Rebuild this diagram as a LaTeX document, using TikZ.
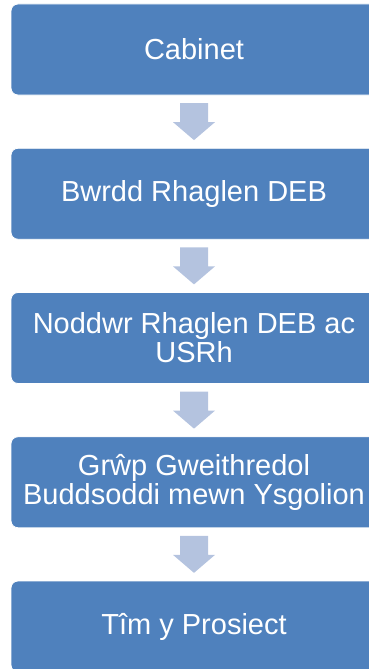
\documentclass[tikz,border=0pt]{standalone}
\usepackage{fontspec}
\setmainfont{Liberation Sans}
\usetikzlibrary{calc}
\definecolor{boxblue}{RGB}{79,129,189}
\definecolor{arrowblue}{RGB}{180,195,223}
\tikzset{
  stagebox/.style={fill=boxblue, draw=white, line width=0.8pt, rounded corners=7pt,
    minimum width=366pt, minimum height=91pt, text=white, align=center,
    font=\fontsize{29}{29}\selectfont, inner sep=0pt},
  downarrow/.style={fill=arrowblue, draw=none}
}
\newcommand{\blockarrow}[3]{%
  \coordinate (#3) at ($(#1.south)!0.5!(#2.north)$);
  \fill[downarrow] ($(#3)+(-14,-18.5)$) -- ($(#3)+(14,-18.5)$) -- ($(#3)+(14,0.5)$)
    -- ($(#3)+(21,0.5)$) -- ($(#3)+(0,18.5)$) -- ($(#3)+(-21,0.5)$)
    -- ($(#3)+(-14,0.5)$) -- cycle;}
\begin{document}
\begin{tikzpicture}[x=1pt,y=-1pt]
\useasboundingbox (0,0) rectangle (369,669);
\clip (0,0) rectangle (369,669);
\node[stagebox] (b1) at (194,49.5) {Cabinet};
\node[stagebox] (b2) at (194,193.75) {Bwrdd Rhaglen DEB};
\node[stagebox] (b3) at (194,338) {Noddwr Rhaglen DEB ac\\USRh};
\node[stagebox] (b4) at (194,482.25) {Grŵp Gweithredol\\Buddsoddi mewn Ysgolion};
\node[stagebox] (b5) at (194,626.5) {Tîm y Prosiect};
\blockarrow{b1}{b2}{m1}
\blockarrow{b2}{b3}{m2}
\blockarrow{b3}{b4}{m3}
\blockarrow{b4}{b5}{m4}
\end{tikzpicture}
\end{document}
